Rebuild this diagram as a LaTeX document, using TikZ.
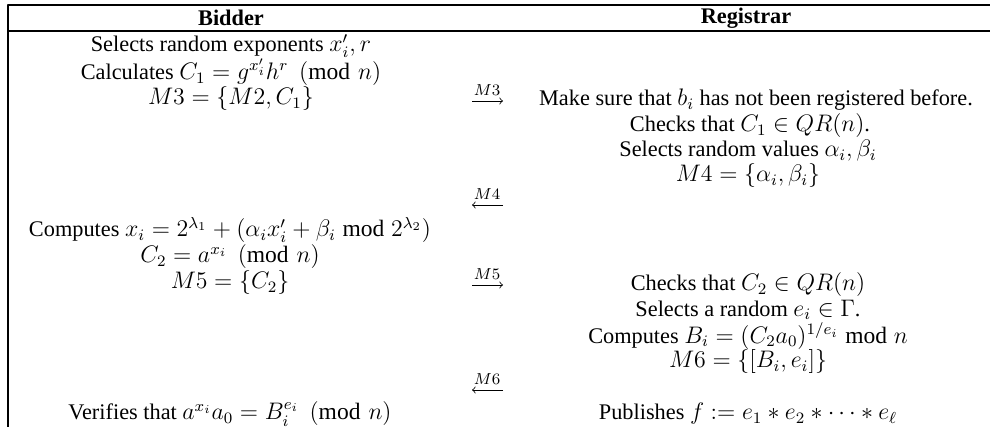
\documentclass[tikz,border=0pt]{standalone}
\usepackage{amsmath}
\usepackage{fontspec}
\setmainfont{Liberation Serif}
\DeclareMathSizes{11.2}{11.8}{8.3}{6}
\begin{document}
\begin{tikzpicture}[>=to,line join=bevel,font=\fontsize{11.2}{13.4}\selectfont,every node/.style={inner sep=0pt}]
%%
\useasboundingbox (0bp,0bp) rectangle (495bp,213.5bp);
\draw [line width=0.8pt] (4bp,0bp) -- (4bp,211bp) -- (495bp,211bp);
\draw [line width=0.8pt] (4bp,198bp) -- (495bp,198bp);
%%
\node (bidder) at (115.5bp,204.5bp) [draw,draw=none] {\textbf{Bidder}};
  \node (registrar) at (373bp,204.5bp) [draw,draw=none] {\textbf{Registrar}};
  \node (selectsx) at (115.5bp,190.5bp) [draw,draw=none] {Selects random exponents $x'_i, r$};
  \node (calcC1) at (115.5bp,177.5bp) [draw,draw=none] {Calculates $C_1 = g^{x'_i} h^r \pmod{n}$};
  \node (M3set) at (115.5bp,164bp) [draw,draw=none] {$M3 = \{M2, C_1\}$};
  \node (makesure) at (378bp,163.5bp) [draw,draw=none] {Make sure that $b_i$ has not been registered before.};
  \node (checksC1) at (375bp,150.5bp) [draw,draw=none] {Checks that $C_1 \in QR(n)$.};
  \node (selectsab) at (374bp,138bp) [draw,draw=none] {Selects random values $\alpha_i, \beta_i$};
  \node (M4set) at (374bp,125.5bp) [draw,draw=none] {$M4 = \{\alpha_i, \beta_i\}$};
  \node (computesx) at (115bp,98.5bp) [draw,draw=none] {Computes $x_i = 2^{\lambda_1} + (\alpha_i x'_i + \beta_i \bmod 2^{\lambda_2})$};
  \node (C2def) at (115bp,85bp) [draw,draw=none] {$C_2 = a^{x_i} \pmod{n}$};
  \node (M5set) at (115bp,72bp) [draw,draw=none] {$M5 = \{C_2\}$};
  \node (checksC2) at (374bp,71bp) [draw,draw=none] {Checks that $C_2 \in QR(n)$};
  \node (selectse) at (374bp,58.5bp) [draw,draw=none] {Selects a random $e_i \in \Gamma$.};
  \node (computesB) at (374bp,45.5bp) [draw,draw=none] {Computes $B_i = (C_2 a_0)^{1/e_i} \bmod n$};
  \node (M6set) at (374bp,32.5bp) [draw,draw=none] {$M6 = \{[B_i, e_i]\}$};
  \node (verifies) at (115bp,6.5bp) [draw,draw=none] {Verifies that $a^{x_i} a_0 = B_i^{e_i} \pmod{n}$};
  \node (publishes) at (374bp,6.5bp) [draw,draw=none] {Publishes $f := e_1 * e_2 * \cdots * e_\ell$};
%% messages
  \node (M3) at (243.5bp,168.5bp) [draw,draw=none] {$\scriptstyle M3$};
  \node (M4) at (243.5bp,116.5bp) [draw,draw=none] {$\scriptstyle M4$};
  \node (M5) at (243.5bp,76.5bp) [draw,draw=none] {$\scriptstyle M5$};
  \node (M6) at (243.5bp,24bp) [draw,draw=none] {$\scriptstyle M6$};
  \coordinate (M3a) at (236bp,163bp);
  \coordinate (M3b) at (251.5bp,163bp);
  \coordinate (M4a) at (251.5bp,111bp);
  \coordinate (M4b) at (236bp,111bp);
  \coordinate (M5a) at (236bp,71bp);
  \coordinate (M5b) at (251.5bp,71bp);
  \coordinate (M6a) at (251.5bp,18.5bp);
  \coordinate (M6b) at (236bp,18.5bp);
  \draw [black,->] (M3a) -- (M3b);
  \draw [black,->] (M4a) -- (M4b);
  \draw [black,->] (M5a) -- (M5b);
  \draw [black,->] (M6a) -- (M6b);
%
\end{tikzpicture}
\end{document}
